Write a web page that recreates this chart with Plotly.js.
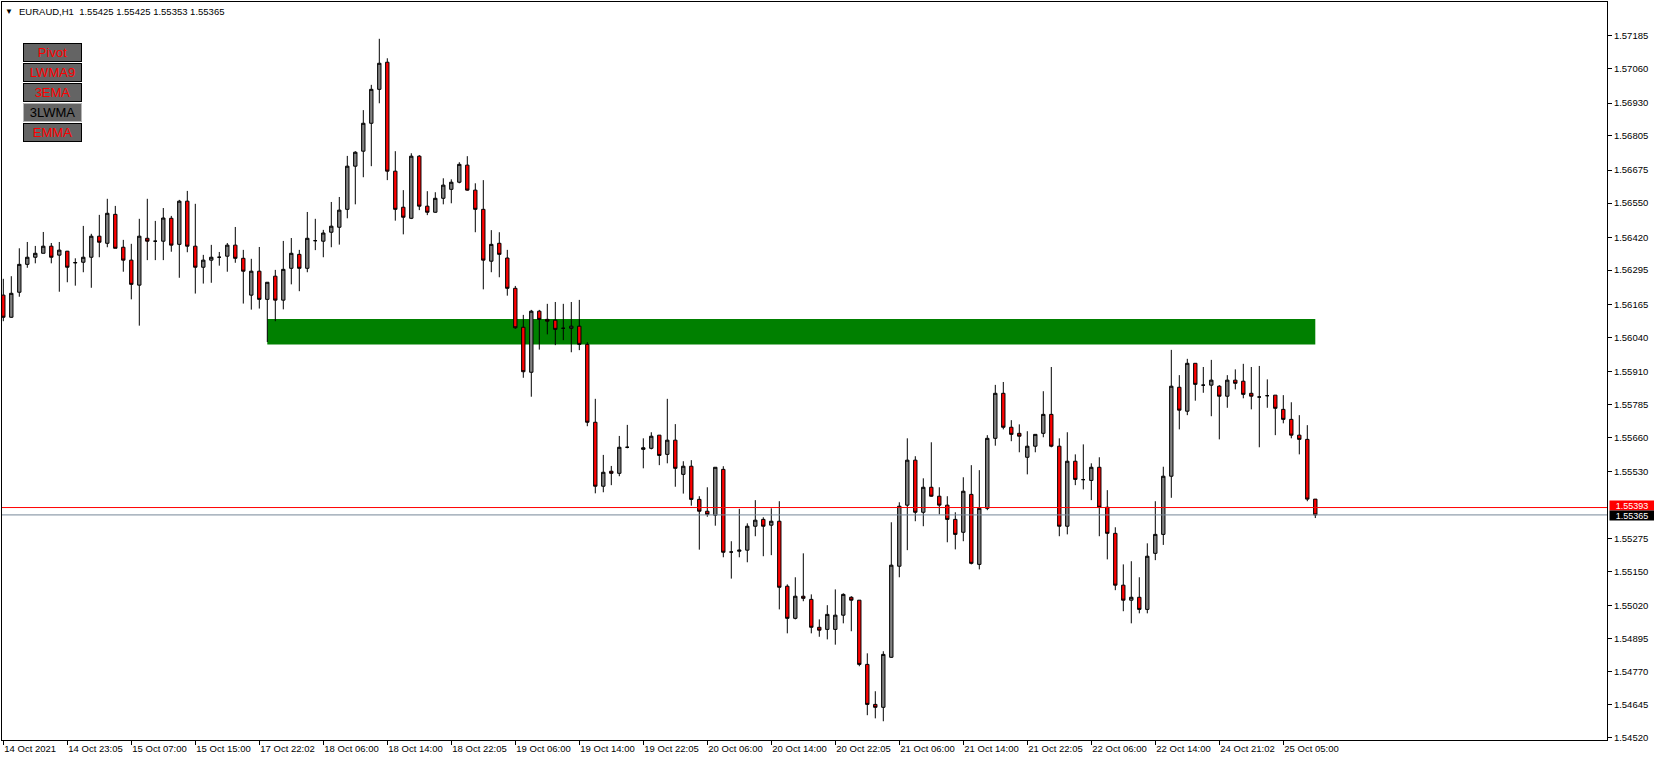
<!DOCTYPE html>
<html><head><meta charset="utf-8">
<script src="https://cdn.plot.ly/plotly-3.0.1.min.js"></script>
<style>html,body{margin:0;padding:0;background:#fff;overflow:hidden}#chart{width:1654px;height:761px}</style>
</head><body><div id="chart"></div>
<script>
// ---- data (EURAUD H1) ----
const symbol = 'EURAUD,H1';
const lastQuote = ['1.55425', '1.55425', '1.55353', '1.55365'];
const openP = [1.56200,1.56116,1.56211,1.56317,1.56344,1.56359,1.56386,1.56352,1.56367,1.56324,
1.56325,1.56344,1.56424,1.56397,1.56507,1.56382,1.56333,1.56238,1.56416,1.56405,
1.56405,1.56492,1.56393,1.56557,1.56386,1.56306,1.56333,1.56344,1.56348,1.56390,
1.56340,1.56200,1.56291,1.56184,1.56272,1.56181,1.56302,1.56355,1.56302,1.56407,
1.56405,1.56439,1.56458,1.56526,1.56690,1.56747,1.56853,1.56982,1.57085,1.56671,
1.56534,1.56492,1.56728,1.56538,1.56515,1.56568,1.56602,1.56629,1.56694,1.56599,
1.56526,1.56329,1.56397,1.56341,1.56226,1.56078,1.55907,1.56139,1.56108,1.56105,
1.56074,1.56074,1.56082,1.56013,1.55717,1.55474,1.55531,1.55523,1.55622,null,
1.55614,1.55618,1.55668,1.55595,1.55649,1.55519,1.55550,1.55424,1.55379,1.55364,
1.55538,1.55224,1.55227,1.55231,1.55322,1.55348,1.55326,1.55341,1.55094,1.54972,
1.55056,1.55044,1.54938,1.54930,1.54930,1.54984,1.55052,1.55041,1.54797,1.54645,
1.54634,1.54824,1.55170,1.55402,1.55573,1.55375,1.55470,1.55436,1.55402,1.55348,
1.55299,1.55443,1.55177,1.55390,1.55656,1.55827,1.55698,1.55675,1.55584,1.55626,
1.55675,1.55747,1.55626,1.55322,1.55569,1.55499,1.55496,1.55546,1.55394,1.55295,
1.55098,1.55041,1.55052,1.55006,1.55219,1.55291,1.55512,1.55850,1.55759,1.55941,
1.55858,1.55858,1.55854,1.55816,1.55877,1.55873,1.55827,1.55813,1.55818,1.55820,
1.55766,1.55728,1.55668,1.55652,1.55425];
const highP = [1.56262,1.56272,1.56378,1.56402,1.56387,1.56440,1.56398,1.56402,1.56368,1.56340,
1.56463,1.56433,1.56505,1.56566,1.56539,1.56410,1.56395,1.56490,1.56566,1.56482,
1.56531,1.56501,1.56562,1.56596,1.56547,1.56353,1.56391,1.56364,1.56398,1.56459,
1.56372,1.56338,1.56383,1.56249,1.56296,1.56406,1.56417,1.56372,1.56516,1.56490,
1.56448,1.56554,1.56573,1.56729,1.56747,1.56903,1.56999,1.57174,1.57100,1.56747,
1.56599,1.56739,1.56732,1.56595,1.56591,1.56644,1.56640,1.56705,1.56728,1.56625,
1.56637,1.56447,1.56439,1.56372,1.56235,1.56125,1.56144,1.56144,1.56167,1.56174,
1.56167,1.56174,1.56182,1.56021,1.55806,1.55593,1.55551,1.55665,1.55707,null,
1.55656,1.55679,1.55668,1.55806,1.55710,1.55569,1.55573,1.55436,1.55470,1.55546,
1.55550,1.55265,1.55388,1.55333,1.55421,1.55356,1.55390,1.55417,1.55101,1.55128,
1.55219,1.55063,1.54968,1.55022,1.55082,1.55067,1.55056,1.55041,1.54839,1.54695,
1.54847,1.55337,1.55413,1.55656,1.55588,1.55504,1.55641,1.55470,1.55436,1.55375,
1.55508,1.55554,1.55535,1.55668,1.55859,1.55870,1.55725,1.55709,1.55683,1.55671,
1.55835,1.55927,1.55656,1.55679,1.55595,1.55633,1.55561,1.55584,1.55459,1.55318,
1.55177,1.55189,1.55128,1.55257,1.55417,1.55548,1.55992,1.55896,1.55958,1.55941,
1.55927,1.55954,1.55858,1.55896,1.55918,1.55939,1.55927,1.55931,1.55880,1.55820,
1.55820,1.55793,1.55744,1.55706,1.55425];
const lowP = [1.56101,1.56114,1.56194,1.56304,1.56321,1.56359,1.56321,1.56213,1.56249,1.56236,
1.56287,1.56228,1.56344,1.56382,1.56378,1.56289,1.56184,1.56084,1.56333,1.56333,
1.56333,1.56365,1.56266,1.56363,1.56206,1.56244,1.56247,1.56312,1.56289,1.56323,
1.56168,1.56145,1.56149,1.56022,1.56101,1.56146,1.56241,1.56215,1.56287,1.56371,
1.56344,1.56382,1.56392,1.56492,1.56545,1.56648,1.56690,1.56929,1.56637,1.56483,
1.56431,1.56489,1.56523,1.56504,1.56513,1.56545,1.56549,1.56625,1.56597,1.56439,
1.56222,1.56287,1.56268,1.56198,1.56072,1.55886,1.55814,1.55993,1.56051,1.56010,
1.56029,1.55983,1.55991,1.55702,1.55447,1.55451,1.55478,1.55512,1.55618,null,
1.55542,1.55614,1.55554,1.55561,1.55472,1.55446,1.55400,1.55233,1.55358,1.55324,
1.55204,1.55123,1.55204,1.55185,1.55284,1.55208,1.55212,1.55006,1.54915,1.54968,
1.55037,1.54915,1.54902,1.54892,1.54872,1.54953,1.54923,1.54790,1.54604,1.54592,
1.54581,1.54822,1.55128,1.55231,1.55341,1.55322,1.55434,1.55367,1.55261,1.55234,
1.55265,1.55177,1.55158,1.55383,1.55628,1.55690,1.55645,1.55603,1.55519,1.55603,
1.55660,1.55622,1.55284,1.55291,1.55478,1.55462,1.55421,1.55284,1.55196,1.55079,
1.54999,1.54953,1.54991,1.54991,1.55193,1.55251,1.55430,1.55690,1.55744,1.55799,
1.55829,1.55740,1.55652,1.55772,1.55842,1.55808,1.55766,1.55622,1.55772,1.55668,
1.55713,1.55656,1.55595,1.55417,1.55353];
const closeP = [1.56116,1.56207,1.56317,1.56344,1.56359,1.56386,1.56344,1.56371,1.56306,1.56323,
1.56344,1.56424,1.56401,1.56511,1.56378,1.56333,1.56241,1.56424,1.56405,1.56405,
1.56493,1.56390,1.56557,1.56386,1.56306,1.56333,1.56344,1.56344,1.56390,1.56340,
1.56291,1.56291,1.56184,1.56249,1.56181,1.56298,1.56359,1.56302,1.56416,1.56407,
1.56436,1.56462,1.56523,1.56690,1.56743,1.56853,1.56982,1.57081,1.56671,1.56526,
1.56496,1.56728,1.56538,1.56515,1.56568,1.56618,1.56629,1.56697,1.56599,1.56526,
1.56333,1.56393,1.56355,1.56226,1.56076,1.55909,1.56139,1.56108,1.56101,1.56070,
1.56074,1.56082,1.56013,1.55717,1.55474,1.55527,1.55523,1.55622,1.55622,null,
1.55620,1.55664,1.55591,1.55649,1.55542,1.55550,1.55424,1.55379,1.55367,1.55546,
1.55223,1.55224,1.55231,1.55322,1.55345,1.55322,1.55341,1.55090,1.54972,1.55056,
1.55048,1.54938,1.54927,1.54987,1.54984,1.55063,1.55041,1.54797,1.54645,1.54634,
1.54835,1.55174,1.55398,1.55573,1.55375,1.55470,1.55436,1.55402,1.55348,1.55291,
1.55455,1.55181,1.55390,1.55656,1.55827,1.55698,1.55671,1.55664,1.55626,1.55671,
1.55747,1.55626,1.55322,1.55569,1.55500,1.55499,1.55546,1.55394,1.55295,1.55098,
1.55041,1.55052,1.55006,1.55208,1.55291,1.55512,1.55854,1.55763,1.55941,1.55861,
1.55858,1.55877,1.55816,1.55877,1.55865,1.55823,1.55816,1.55813,1.55818,1.55770,
1.55728,1.55668,1.55652,1.55425,1.55365];
const timeLabels = ['14 Oct 2021','14 Oct 23:05','15 Oct 07:00','15 Oct 15:00','17 Oct 22:02',
'18 Oct 06:00','18 Oct 14:00','18 Oct 22:05','19 Oct 06:00','19 Oct 14:00','19 Oct 22:05',
'20 Oct 06:00','20 Oct 14:00','20 Oct 22:05','21 Oct 06:00','21 Oct 14:00','21 Oct 22:05',
'22 Oct 06:00','22 Oct 14:00','24 Oct 21:02','25 Oct 05:00'];
const barsPerLabel = 8;
const priceTicks = ['1.57185','1.57060','1.56930','1.56805','1.56675','1.56550','1.56420','1.56295',
'1.56165','1.56040','1.55910','1.55785','1.55660','1.55530','1.55275','1.55150','1.55020',
'1.54895','1.54770','1.54645','1.54520'];
const zoneLow = 1.56012, zoneHigh = 1.56109;
const zoneStartBar = 33, zoneEndBar = 164;
const askPrice = 1.55393, bidPrice = 1.55365;
const buttonNames = ['Pivot','LWMA9','3EMA','3LWMA','EMMA'];
const buttonTextColors = ['#ff0000','#ff0000','#ff0000','#000000','#ff0000'];

// ---- layout geometry ----
const W = 1654, H = 761;
const M = {l: 2, r: 47, t: 2, b: 21};
const PW = W - M.l - M.r, PH = H - M.t - M.b;
const px2x = p => (p - M.l) / PW;
const px2y = p => 1 - (p - M.t) / PH;
const FONT = 'Liberation Sans, Arial, sans-serif';

const idx = openP.map((_, i) => i);

const trace = {
  type: 'candlestick',
  x: idx, open: openP, high: highP, low: lowP, close: closeP,
  increasing: {line: {color: '#000000', width: 1}, fillcolor: '#808080'},
  decreasing: {line: {color: '#000000', width: 1}, fillcolor: '#ff0000'},
  whiskerwidth: 0,
  hoverinfo: 'skip',
  showlegend: false
};

const annotations = [];
annotations.push({xref:'paper', yref:'paper', x:px2x(9), y:px2y(11), text:'▼', showarrow:false,
  font:{family:FONT, size:8, color:'#000'}, xanchor:'center', yanchor:'middle'});
annotations.push({xref:'paper', yref:'paper', x:px2x(17), y:px2y(11),
  text: symbol + '&nbsp;&nbsp;' + lastQuote.join(' '), showarrow:false,
  font:{family:FONT, size:9.5, color:'#000'}, xanchor:'left', yanchor:'middle'});
buttonNames.forEach((b, i) => {
  const dim = i === 3;
  annotations.push({xref:'paper', yref:'paper', x:px2x(52.5), y:px2y(52.5 + 20*i), text:b,
    showarrow:false, xanchor:'center', yanchor:'middle', width:57, height:17,
    bgcolor:'#646464', bordercolor: dim ? '#b4b4b4' : '#000000', borderwidth:1, borderpad:0,
    font:{family:FONT, size:13, color:buttonTextColors[i]}});
});
annotations.push({xref:'paper', yref:'y', x:1, xshift:2, yshift:2, y:askPrice, text:askPrice.toFixed(5),
  showarrow:false, xanchor:'left', yanchor:'middle', bgcolor:'#ff0000', borderpad:0,
  width:44, height:9, font:{family:FONT, size:9, color:'#ffffff'}});
annotations.push({xref:'paper', yref:'y', x:1, xshift:2, yshift:-1, y:bidPrice, text:bidPrice.toFixed(5),
  showarrow:false, xanchor:'left', yanchor:'middle', bgcolor:'#000000', borderpad:0,
  width:44, height:9, font:{family:FONT, size:9, color:'#ffffff'}});

const shapes = [
  {type:'rect', xref:'x', yref:'y', x0:zoneStartBar, x1:zoneEndBar, y0:zoneLow, y1:zoneHigh,
   fillcolor:'#008000', line:{width:0}, layer:'below'},
  {type:'line', xref:'paper', yref:'y', x0:0, x1:1, y0:askPrice, y1:askPrice,
   line:{color:'#ff0000', width:1}, layer:'above'},
  {type:'line', xref:'paper', yref:'y', x0:0, x1:1, y0:bidPrice, y1:bidPrice,
   line:{color:'#778899', width:1}, layer:'above'}
];

// bar i sits at pixel 3.3 + 8*i (relative to page); derive axis range from plot area
const barPx0 = 3.3, barStep = 8;
const xr = [(M.l - barPx0)/barStep, (M.l + PW - barPx0)/barStep];
// price scale: 1.57185 at y=35.9px, 26319 px per unit
const yAt = (py) => 1.57185 - (py - 35.9)/26319;
const yr = [yAt(M.t + PH), yAt(M.t)];

const layout = {
  width: W, height: H,
  margin: M,
  paper_bgcolor:'#ffffff', plot_bgcolor:'#ffffff',
  showlegend:false,
  boxgap: 0.4,
  xaxis: {
    range: xr, rangeslider:{visible:false}, showgrid:false, zeroline:false,
    showline:true, mirror:true, linecolor:'#000', linewidth:1,
    ticks:'outside', ticklen:4, tickcolor:'#000', tickwidth:1,
    tickvals: timeLabels.map((_, i) => i*barsPerLabel), ticktext: timeLabels,
    ticklabelposition:'outside right',
    tickfont:{family:FONT, size:9.5, color:'#000'}, fixedrange:true
  },
  yaxis: {
    range: yr, side:'right', showgrid:false, zeroline:false,
    showline:true, mirror:true, linecolor:'#000', linewidth:1,
    ticks:'outside', ticklen:4, tickcolor:'#000', tickwidth:1,
    tickvals: priceTicks.map(Number), ticktext: priceTicks,
    tickfont:{family:FONT, size:9.5, color:'#000'}, fixedrange:true
  },
  shapes, annotations
};

Plotly.newPlot('chart', [trace], layout, {staticPlot:true, displayModeBar:false});
</script></body></html>
